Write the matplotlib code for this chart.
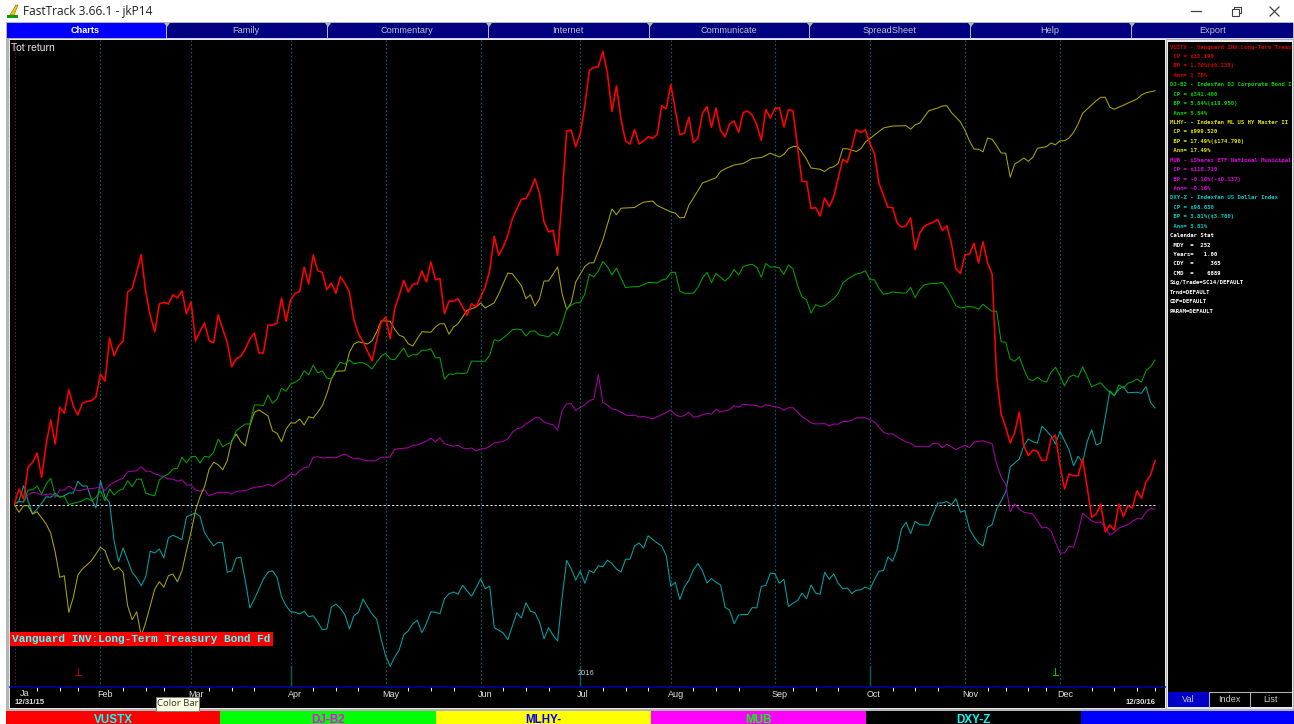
#!/usr/bin/env python
# FastTrack total return chart, 12/31/15 to 12/30/16
import matplotlib
matplotlib.use('Agg')
import matplotlib.pyplot as plt
from matplotlib.patches import Rectangle, Polygon

# daily values, total return in % on the chart's own scale
vustx = [
    .04, .64, .24, 1.51, 1.71, 2.08, 1.11, 2.44, 3.40, 2.44,
    3.91, 3.67, 4.61, 3.95, 3.60, 4.07, 4.15, 4.17, 4.33, 5.24,
    4.95, 6.68, 5.97, 6.37, 6.55, 8.51, 8.67, 9.31, 10.01, 8.51,
    7.57, 6.93, 8.04, 8.11, 8.04, 8.41, 8.28, 8.57, 7.64, 8.13,
    6.57, 6.95, 7.28, 6.57, 6.49, 7.61, 7.04, 6.51, 5.53, 5.85,
    5.95, 6.24, 6.64, 6.88, 6.08, 6.08, 7.19, 7.20, 7.27, 8.28,
    7.35, 8.20, 8.47, 8.53, 9.51, 8.84, 10.0, 9.37, 9.31, 8.61,
    8.88, 8.47, 9.13, 8.87, 8.51, 7.40, 6.84, 6.53, 6.15, 5.77,
    6.57, 7.31, 7.51, 6.65, 7.85, 8.39, 8.99, 8.52, 8.83, 8.85,
    9.36, 8.92, 9.72, 9.01, 9.05, 7.65, 8.15, 8.16, 8.25, 7.92,
    7.59, 8.05, 7.92, 8.32, 8.72, 9.39, 10.75, 9.99, 10.32, 10.79,
    11.45, 11.85, 12.23, 12.25, 12.59, 13.05, 12.45, 11.32, 10.92, 10.99,
    9.99, 12.32, 14.96, 15.0, 14.32, 14.85, 15.97, 17.38, 17.50, 17.53,
    18.15, 17.27, 15.74, 16.77, 15.44, 14.56, 14.44, 15.02, 14.44, 14.56,
    14.73, 14.66, 14.82, 15.97, 15.85, 16.81, 15.82, 14.81, 14.87, 15.51,
    14.50, 14.67, 15.67, 15.94, 15.10, 15.88, 14.98, 14.73, 15.24, 15.36,
    14.90, 15.70, 15.76, 15.59, 15.21, 14.59, 15.82, 15.48, 15.85, 15.90,
    15.12, 15.81, 15.77, 14.32, 12.94, 12.94, 11.86, 11.90, 11.56, 12.28,
    11.93, 12.32, 13.08, 13.83, 13.70, 14.32, 15.01, 14.90, 15.01, 14.46,
    14.04, 12.87, 12.39, 11.90, 11.90, 11.28, 11.12, 11.17, 11.49, 10.21,
    10.87, 11.14, 11.24, 11.31, 11.42, 10.98, 11.17, 10.46, 9.45, 9.26,
    10.0, 10.04, 10.47, 9.68, 10.53, 9.68, 9.24, 5.11, 3.64, 3.11,
    2.48, 2.91, 3.71, 2.37, 1.97, 2.20, 2.15, 1.77, 1.80, 2.64,
    2.80, 1.57, .64, 1.24, 1.17, 1.17, 1.84, .71, -.49, -.36,
    .04, -1.07, -.80, -1.0, .04, -.47, -.03, -.12, .57, .27,
    .93, 1.2, 1.77,
]
dj_b2 = [
    .04, .15, .11, .6, .61, .75, .44, .84, 1.07, .37,
    .35, .33, .01, .07, .11, .17, .27, .17, .31, .57,
    .17, .64, .4, .57, .64, .97, .73, 1.03, 1.04, .48,
    .41, .37, 1.0, 1.15, 1.24, 1.44, 1.47, 1.91, 1.68, 1.93,
    1.95, 1.67, 1.95, 1.91, 2.11, 2.64, 2.33, 2.44, 2.51, 2.97,
    3.11, 3.24, 3.24, 4.0, 4.0, 3.97, 4.4, 4.07, 4.24, 4.67,
    4.55, 4.84, 4.91, 5.04, 5.37, 5.21, 5.6, 5.28, 5.37, 5.07,
    5.04, 5.44, 5.71, 5.64, 5.8, 5.64, 5.69, 5.69, 5.6, 5.44,
    5.71, 5.95, 6.07, 5.84, 5.81, 6.05, 6.28, 5.92, 6.01, 6.01,
    6.19, 6.19, 6.25, 5.89, 5.89, 5.03, 5.24, 5.23, 5.28, 5.25,
    5.29, 5.76, 5.75, 5.75, 5.75, 5.99, 6.61, 6.56, 6.68, 6.83,
    7.01, 7.04, 7.01, 6.76, 6.95, 6.96, 6.8, 6.77, 6.72, 6.92,
    6.79, 7.25, 7.85, 7.99, 8.09, 8.09, 8.44, 9.23, 9.13, 9.36,
    9.74, 9.54, 9.2, 9.48, 9.08, 8.7, 8.72, 8.73, 8.74, 8.82,
    8.9, 8.9, 8.88, 9.0, 9.04, 9.3, 9.31, 8.55, 8.47, 8.47,
    8.47, 8.7, 9.08, 9.31, 8.9, 9.26, 9.11, 8.96, 9.13, 9.42,
    9.2, 9.54, 9.6, 9.63, 9.51, 9.11, 9.66, 9.51, 9.53, 9.48,
    9.23, 9.6, 9.45, 8.8, 8.32, 8.21, 7.67, 8.01, 7.94, 7.97,
    8.11, 8.25, 8.46, 8.87, 9.03, 9.14, 9.24, 9.28, 9.37, 9.01,
    9.01, 8.66, 8.43, 8.46, 8.52, 8.5, 8.48, 8.48, 8.7, 8.29,
    8.62, 8.8, 8.84, 8.86, 8.87, 8.9, 8.66, 8.32, 7.97, 7.88,
    7.91, 7.95, 7.91, 7.83, 8.03, 7.88, 7.75, 7.75, 6.53, 6.51,
    5.84, 5.75, 5.93, 5.44, 5.04, 4.97, 5.11, 4.97, 4.91, 5.31,
    5.51, 5.17, 4.76, 5.11, 5.2, 5.11, 5.53, 5.13, 4.73, 4.81,
    4.89, 4.68, 4.51, 4.37, 4.8, 4.68, 4.87, 4.93, 5.04, 4.91,
    5.37, 5.53, 5.8,
]
dxy_z = [
    .04, .17, .77, .17, -.36, -.16, .07, .33, .31, .47,
    .31, .37, .48, .48, .95, .76, .76, .24, -.12, .97,
    .31, .11, -1.43, -2.27, -1.72, -2.2, -2.69, -2.92, -3.23, -2.87,
    -1.85, -1.92, -1.76, -2.12, -1.32, -1.21, -1.29, -1.39, -.47, -.39,
    -.32, -.46, -1.11, -1.39, -1.63, -1.49, -1.51, -2.69, -2.63, -2.12,
    -2.09, -3.03, -4.12, -3.76, -3.36, -2.96, -2.69, -2.63, -2.89, -3.67,
    -4.03, -4.27, -4.29, -4.36, -4.25, -4.47, -4.43, -4.69, -4.99, -4.96,
    -4.09, -3.96, -4.13, -4.39, -4.96, -4.43, -4.29, -3.76, -4.07, -4.36,
    -4.56, -5.36, -6.03, -6.45, -6.09, -5.79, -5.19, -5.04, -4.75, -4.61,
    -5.11, -4.75, -4.27, -4.29, -4.35, -3.75, -3.55, -3.48, -3.57, -3.21,
    -3.44, -3.65, -3.31, -2.95, -3.35, -3.24, -4.91, -5.01, -5.12, -5.39,
    -4.84, -4.31, -4.52, -3.91, -4.24, -4.31, -4.68, -5.35, -4.91, -5.21,
    -5.44, -3.68, -2.21, -2.55, -3.01, -2.64, -3.13, -2.62, -2.71, -2.43,
    -2.47, -2.21, -2.34, -2.56, -2.68, -2.17, -2.17, -1.64, -1.52, -1.72,
    -1.23, -1.38, -1.52, -1.64, -2.02, -3.25, -3.09, -3.78, -3.28, -3.02,
    -2.59, -2.34, -2.63, -3.12, -2.94, -3.09, -3.2, -4.09, -4.21, -4.75,
    -4.4, -4.38, -4.38, -4.1, -4.12, -3.25, -3.22, -2.72, -2.75, -3.13,
    -2.97, -4.06, -3.93, -3.82, -3.52, -3.75, -3.2, -3.52, -3.57, -2.69,
    -2.97, -2.76, -3.13, -3.35, -3.32, -3.54, -3.41, -3.39, -3.28, -3.37,
    -2.99, -2.65, -2.62, -2.08, -2.25, -1.78, -.95, -.69, -1.14, -.65,
    -.79, -.8, -.81, -.34, .08, .08, .14, .01, .25, -.29,
    -.22, -.96, -1.27, -1.52, -1.63, -.89, -.79, -.16, .17, .51,
    1.53, 1.68, 1.84, 2.37, 2.64, 2.53, 2.48, 3.15, 2.97, 2.77,
    2.44, 2.95, 2.57, 2.2, 1.57, 1.95, 1.71, 2.53, 3.01, 2.4,
    2.48, 3.51, 4.57, 4.37, 4.64, 4.73, 4.49, 4.5, 4.51, 4.47,
    4.73, 4.11, 3.88,
]

# the two smoother series, read at their turning points
mlhy_days = [
    0, 1, 2, 3, 4, 5, 7, 8, 9, 10, 11, 12, 13, 14, 15, 17, 19, 20, 21, 22,
    23, 24, 25, 26, 27, 28, 29, 30, 31, 32, 33, 34, 35, 36, 37, 38, 39, 40, 41, 42,
    43, 44, 45, 46, 47, 48, 49, 50, 51, 52, 53, 54, 56, 57, 58, 59, 60, 61, 62, 63,
    64, 65, 66, 67, 68, 69, 70, 71, 73, 74, 75, 76, 78, 79, 80, 81, 83, 84, 85, 86,
    87, 88, 89, 90, 92, 93, 94, 95, 96, 97, 98, 99, 100, 101, 102, 103, 104, 106, 107, 109,
    110, 112, 113, 114, 115, 116, 117, 118, 120, 121, 122, 123, 124, 126, 127, 128, 129, 130, 132, 133,
    134, 137, 138, 139, 141, 142, 144, 145, 146, 147, 148, 149, 151, 152, 155, 156, 157, 159, 161, 163,
    165, 167, 169, 170, 171, 172, 173, 174, 175, 176, 178, 179, 180, 181, 182, 183, 184, 186, 187, 188,
    189, 192, 194, 197, 198, 199, 200, 202, 204, 205, 206, 207, 209, 210, 211, 212, 213, 214, 215, 216,
    217, 218, 219, 220, 221, 222, 223, 224, 225, 226, 228, 229, 230, 231, 232, 233, 234, 235, 236, 237,
    239, 240, 241, 242, 243, 244, 248, 249, 250, 252,
]
mlhy = [
    0, -.29, -.03, -.03, -.36, -.27, -.76, -1.12, -1.89, -2.89, -2.83, -4.29, -3.69, -2.80, -2.56, -2.23, -1.69, -1.83, -2.33, -2.6,
    -2.49, -2.69, -4.03, -4.59, -4.27, -5.23, -4.69, -4.03, -3.36, -3.07, -3.29, -2.83, -2.76, -3.07, -2.63, -1.83, -1.09, -.23, .34, .74,
    1.43, 1.71, 1.61, 1.41, 1.77, 2.57, 2.84, 2.53, 2.37, 3.17, 3.71, 3.8, 3.57, 2.97, 2.87, 2.53, 3.04, 3.28, 3.28, 3.44,
    3.2, 3.53, 3.48, 3.71, 3.97, 4.44, 5.04, 5.35, 5.37, 6.11, 6.44, 6.53, 6.44, 6.57, 6.91, 7.37, 7.35, 7.03, 6.79, 6.72,
    6.45, 6.36, 6.65, 6.93, 6.91, 7.12, 7.25, 7.25, 6.83, 7.12, 7.25, 7.52, 7.79, 7.85, 7.92, 8.08, 7.88, 8.09, 8.45, 9.28,
    9.25, 8.77, 8.25, 8.41, 7.96, 8.25, 8.96, 8.96, 9.52, 8.45, 7.81, 8.09, 8.92, 9.54, 9.68, 9.69, 10.15, 10.61, 11.84, 11.61,
    11.87, 11.9, 12.02, 12.11, 12.16, 11.98, 11.81, 11.72, 11.68, 11.49, 11.5, 11.99, 12.57, 12.88, 13.09, 13.34, 13.45, 13.6, 13.66, 13.86,
    13.9, 14.07, 13.92, 14.03, 14.25, 14.34, 14.34, 14.11, 13.83, 13.48, 13.43, 13.34, 13.48, 13.53, 13.67, 14.25, 14.25, 14.14, 14.25, 14.52,
    14.66, 15.08, 15.16, 15.17, 15.03, 15.21, 15.27, 15.77, 15.88, 15.96, 15.97, 15.7, 15.32, 14.99, 14.56, 14.24, 14.23, 14.13, 14.68, 14.63,
    14.37, 14.08, 14.07, 13.11, 13.64, 13.75, 13.88, 13.75, 13.91, 14.27, 14.33, 14.48, 14.41, 14.57, 14.57, 14.68, 14.91, 15.24, 15.67, 15.84,
    16.17, 16.31, 16.31, 15.91, 15.83, 15.91, 16.24, 16.4, 16.49, 16.57,
]
mub_days = [
    0, 1, 2, 3, 4, 5, 6, 8, 9, 10, 11, 12, 13, 14, 16, 18, 19, 20, 21, 22,
    23, 24, 25, 27, 28, 29, 30, 31, 33, 34, 35, 36, 37, 38, 39, 40, 41, 42, 43, 44,
    45, 46, 47, 48, 49, 51, 53, 55, 56, 57, 58, 60, 61, 62, 63, 64, 65, 66, 67, 68,
    70, 71, 72, 73, 75, 76, 77, 78, 79, 80, 81, 83, 84, 85, 87, 88, 89, 91, 92, 93,
    94, 95, 96, 97, 98, 99, 100, 101, 102, 103, 104, 105, 106, 107, 108, 109, 110, 111, 112, 113,
    114, 115, 116, 117, 118, 119, 120, 121, 122, 123, 124, 125, 126, 127, 128, 129, 130, 131, 132, 133,
    135, 136, 137, 138, 139, 141, 143, 145, 146, 147, 148, 149, 150, 151, 152, 153, 154, 155, 156, 158,
    159, 160, 161, 164, 165, 166, 167, 169, 170, 171, 172, 173, 174, 175, 176, 177, 179, 180, 181, 182,
    183, 184, 185, 186, 188, 189, 190, 191, 192, 193, 194, 195, 196, 197, 198, 199, 202, 203, 204, 205,
    206, 207, 208, 209, 210, 211, 212, 214, 215, 216, 217, 218, 219, 220, 221, 222, 223, 225, 226, 227,
    228, 229, 230, 231, 232, 233, 234, 235, 236, 237, 238, 239, 240, 241, 242, 243, 244, 246, 247, 248,
    249, 250, 251, 252,
]
mub = [
    .04, .11, .15, .41, .51, .48, .4, .44, .31, .6, .6, .75, .64, .57, .64, .68, .75, .57, .8, .91,
    1.0, 1.07, 1.33, 1.37, 1.53, 1.35, 1.35, 1.24, 1.13, 1.04, 1.04, .95, 1.01, .8, .8, .6, .55, .6, .37, .44,
    .51, .48, .51, .44, .55, .57, .71, .75, .84, .75, .87, 1.08, 1.24, 1.19, 1.37, 1.48, 1.53, 1.91, 1.93, 1.88,
    1.91, 1.88, 1.97, 2.04, 1.84, 1.88, 1.8, 1.77, 1.76, 1.8, 1.91, 1.92, 2.23, 2.25, 2.29, 2.39, 2.4, 2.55, 2.67, 2.53,
    2.69, 2.45, 2.4, 2.35, 2.39, 2.28, 2.25, 2.28, 2.16, 2.24, 2.25, 2.35, 2.49, 2.51, 2.55, 2.65, 2.91, 3.05, 3.09, 3.25,
    3.35, 3.49, 3.49, 3.32, 3.25, 3.21, 2.99, 3.79, 4.05, 4.05, 3.79, 3.9, 4.0, 4.18, 4.23, 5.21, 4.1, 4.0, 3.84, 3.81,
    3.61, 3.57, 3.6, 3.52, 3.54, 3.45, 3.61, 3.8, 3.61, 3.54, 3.57, 3.72, 3.51, 3.54, 3.61, 3.66, 3.64, 3.83, 3.72, 3.81,
    3.98, 3.91, 4.03, 3.98, 3.91, 4.01, 3.97, 3.9, 3.79, 3.89, 3.89, 3.72, 3.53, 3.42, 3.28, 3.24, 3.26, 3.16, 3.24, 3.23,
    3.34, 3.34, 3.39, 3.49, 3.49, 3.41, 3.32, 3.12, 2.91, 2.84, 2.84, 2.73, 2.62, 2.52, 2.47, 2.34, 2.33, 2.47, 2.47, 2.29,
    2.43, 2.33, 2.22, 2.31, 2.38, 2.3, 2.51, 2.57, 2.51, 2.44, 1.64, 1.11, .84, -.27, .04, -.16, -.29, -.36, -.63, -.92,
    -.89, -1.03, -1.49, -1.92, -1.92, -1.65, -1.69, -1.09, -.33, -.47, -.63, -.72, -.67, -.89, -1.2, -1.09, -.92, -.79, -.65, -.55,
    -.55, -.29, -.13, -.17,
]

days = list(range(len(vustx)))
month_days = [19, 39, 61, 82, 103, 125, 145, 168, 189, 210, 231]
month_labels = ['Feb', 'Mar', 'Apr', 'May', 'Jun', 'Jul', 'Aug', 'Sep', 'Oct', 'Nov', 'Dec']
week_days = [5, 10, 14, 24, 29, 33, 43, 48, 53, 66, 71, 76, 87, 92, 97, 108, 113, 118,
             130, 135, 140, 150, 155, 160, 172, 177, 182, 194, 199, 204, 215, 219, 224, 228,
             238, 243, 248, 252]
quarter_days = [61, 125, 189]

tab_names = ['Charts', 'Family', 'Commentary', 'Internet', 'Communicate', 'SpreadSheet', 'Help', 'Export']
bar_names = ['VUSTX', 'DJ-B2', 'MLHY-', 'MUB', 'DXY-Z', '']
bar_colors = ['#ff0000', '#00ff00', '#ffff00', '#ff00ff', '#000000', '#0000ff']
bar_text = ['#00ffff', '#ff00ff', '#0000ff', '#00ff00', '#00ffff', '#ffffff']

RED, GREEN, YELLOW, MAGENTA, CYAN = '#ff0000', '#00a400', '#aaa600', '#a800a8', '#00a4a4'
side_lines = [
    ('VUSTX - Vanguard INV:Long-Term Treas', '#d00000'), (' CP = $12.190', '#d00000'),
    (' BP = 1.76%($0.235)', '#d00000'), (' Ann= 1.76%', '#d00000'),
    ('DJ-B2 - Indexfan DJ Corporate Bond I', '#00d000'), (' CP = $341.400', '#00d000'),
    (' BP = 5.84%($19.950)', '#00d000'), (' Ann= 5.84%', '#00d000'),
    ('MLHY- - Indexfan ML US HY Master II', '#e0e000'), (' CP = $999.520', '#e0e000'),
    (' BP = 17.49%($174.790)', '#e0e000'), (' Ann= 17.49%', '#e0e000'),
    ('MUB - iShares ETF National Municipal', '#e000e0'), (' CP = $110.710', '#e000e0'),
    (' BP = -0.16%(-$0.137)', '#e000e0'), (' Ann= -0.16%', '#e000e0'),
    ('DXY-Z - Indexfan US Dollar Index', '#00c8c8'), (' CP = $98.630', '#00c8c8'),
    (' BP = 3.81%($3.760)', '#00c8c8'), (' Ann= 3.81%', '#00c8c8'),
    ('Calendar Stat', 'white'), (' MDY  =  252', 'white'), (' Years=   1.00', 'white'),
    (' CDY  =     365', 'white'), (' CMD  =    6889', 'white'),
    ('Sig/Trade=SC14/DEFAULT', 'white'), ('Trnd=DEFAULT', 'white'),
    ('CDF=DEFAULT', 'white'), ('PARAM=DEFAULT', 'white'),
]

W, H = 1294, 724
fig = plt.figure(figsize=(W / 100, H / 100), dpi=100, facecolor='white')

# window chrome, drawn in screen pixels
ui = fig.add_axes([0, 0, 1, 1])
ui.set_xlim(0, W)
ui.set_ylim(H, 0)
ui.axis('off')


def box(x0, y0, x1, y1, color, **kw):
    ui.add_patch(Rectangle((x0, y0), x1 - x0, y1 - y0, facecolor=color, edgecolor='none', **kw))


box(6, 22, W, 711, '#b4b4b4')
box(9, 39, 1166, 709, '#e8e8e8')
box(10, 40, 1165, 708, 'black')
box(1167, 40, 1293, 709, '#e8e8e8')
box(1168, 42, 1292, 707, 'black')

# title bar
ui.add_patch(Polygon([(7, 18), (18, 18), (18, 15), (7, 15)], facecolor='#00a000'))
ui.add_patch(Polygon([(10, 15), (16, 5), (18, 5), (14, 15)], facecolor='#f0d000', edgecolor='#806000', lw=.4))
ui.text(23, 12, 'FastTrack 3.66.1 - jkP14', fontsize=8.6, family='Open Sans', va='center', color='#202020')
ui.plot([1191, 1201], [11, 11], color='#404040', lw=.9)
box(1232, 8, 1239, 15, 'white')
ui.add_patch(Rectangle((1231.5, 8.5), 7, 7, facecolor='white', edgecolor='#404040', lw=.8))
ui.plot([1234, 1234, 1240.5, 1240.5, 1239], [8, 6.5, 6.5, 13, 13], color='#404040', lw=.8)
ui.plot([1270, 1279], [7, 16], color='#404040', lw=.9)
ui.plot([1270, 1279], [16, 7], color='#404040', lw=.9)

# tab row
tab_edges = [7, 167, 328, 489, 650, 810, 971, 1132, 1294]
tab_text_x = [85, 246, 407, 568, 729, 889, 1050, 1213]
for i, name in enumerate(tab_names):
    active = i == 0
    box(tab_edges[i], 23, tab_edges[i + 1] - 1, 38, '#0000ff' if active else '#000080')
    ui.text(tab_text_x[i], 30.5, name, ha='center', va='center', fontsize=6.6,
            family='Liberation Sans', color='white' if active else '#c0c0c0', fontweight='bold' if active else 'normal')
    if not active:
        box(tab_edges[i], 38, tab_edges[i + 1] - 1, 39.2, '#d0d0ff')
    if i:
        ui.add_patch(Polygon([(tab_edges[i] - 3, 23), (tab_edges[i] + 3, 23), (tab_edges[i], 27)],
                             facecolor='#b4b4b4', edgecolor='none'))

# colour bar, cut by the bottom of the picture
bar_edges = [6, 220, 436, 651, 866, 1081, 1294]
for i, name in enumerate(bar_names):
    box(bar_edges[i], 711, bar_edges[i + 1], H, bar_colors[i])
    ui.text((bar_edges[i] + bar_edges[i + 1]) / 2, 720, name, ha='center', va='center', fontsize=8.4,
            family='Liberation Sans', fontweight='bold', color=bar_text[i], clip_on=True)

# side panel
for i, (line, color) in enumerate(side_lines):
    ui.text(1170, 47 + i * 9.43, line, fontsize=4.05, family='DejaVu Sans Mono', fontweight='bold', va='center', color=color)
tab_x = [1168, 1209, 1250, 1291]
for i, name in enumerate(['Val', 'Index', 'List']):
    box(tab_x[i], 692, tab_x[i + 1] - .5, 707, '#0000c8' if i == 0 else 'black')
    if i:
        ui.plot([tab_x[i], tab_x[i], tab_x[i + 1]], [707, 692, 692], color='#b0b0b0', lw=.8)
    ui.text((tab_x[i] + tab_x[i + 1]) / 2, 700, name, ha='center', va='center', fontsize=6.6,
            family='Liberation Sans', color='#c8c8c8')

ui.text(15, 702, '12/31/15', fontsize=5.6, family='Liberation Sans', fontweight='bold', va='center', color='#e0e0e0')
ui.text(1126, 702, '12/30/16', fontsize=5.6, family='Liberation Sans', fontweight='bold', va='center', color='#e0e0e0')
ui.text(20, 693, 'Ja', fontsize=6.5, family='Liberation Sans', va='center', color='#e0e0e0')

# chart, 4.526 px per trading day and 25 px per unit
ax = fig.add_axes([10 / W, 1 - 687 / H, 1155 / W, 647 / H], facecolor='black')
ax.set_xlim(-4.5 / 4.526, 1150.5 / 4.526)
ax.set_ylim(-182 / 25, 465 / 25)
for side in ['top', 'left', 'right']:
    ax.spines[side].set_visible(False)
ax.spines['bottom'].set_color('#0000a0')
ax.spines['bottom'].set_linewidth(1.2)
ax.set_yticks([])
ax.set_xticks(month_days, [''] * len(month_days))
ax.tick_params(axis='x', length=0)
ax.set_xticks(week_days, minor=True)
ax.tick_params(axis='x', which='minor', length=3, width=.7, color='white', direction='out')

ax.axvline(0, color='#6a2020', lw=.7, ls=(0, (1.5, 2)))
for d in month_days:
    ax.axvline(d, color='#006868', lw=.8, ls=(0, (1.5, 2)))
for d in quarter_days:
    ax.plot([d, d], [-7.28, -6.45], color='#006060', lw=1.0)
ax.plot([0, 252], [0, 0], color='#e0e0e0', lw=.7, ls=(0, (2.4, 2)))

ax.plot(days, dxy_z, color=CYAN, lw=.75)
ax.plot(mub_days, mub, color=MAGENTA, lw=.75)
ax.plot(mlhy_days, mlhy, color=YELLOW, lw=.75)
ax.plot(days, dj_b2, color=GREEN, lw=.75)
ax.plot(days, vustx, color=RED, lw=1.15)

for d, label in zip(month_days, month_labels):
    ax.annotate(label, (d, 0), xycoords=('data', 'axes fraction'), xytext=(-2.2, -2.4), textcoords='offset points',
                ha='left', va='top', fontsize=6.5, family='Liberation Sans', color='#e0e0e0', annotation_clip=False)
ax.annotate('2016', (125, -6.75), xytext=(-2, 0), textcoords='offset points', fontsize=5.4,
            family='Liberation Sans', color='#c8c8c8', va='center')

# small signal marks
ax.plot([14, 14], [-6.8, -6.5], color='#a00000', lw=.8)
ax.plot([13.4, 14.6], [-6.8, -6.8], color='#a00000', lw=.8)
ax.plot([230, 230], [-6.8, -6.5], color='#00c000', lw=.8)
ax.plot([229.4, 230.6], [-6.8, -6.8], color='#00c000', lw=.8)

ax.text(0.0005, 0.9875, 'Tot return', transform=ax.transAxes, va='center', fontsize=7.5, family='Liberation Sans', color='#e8e8e8')
ax.text(0.002, -5.36, 'Vanguard INV:Long-Term Treasury Bond Fd', transform=ax.get_yaxis_transform(), va='center', ha='left',
        fontsize=8.05, family='Liberation Mono', fontweight='bold', color='#40ffff',
        bbox=dict(facecolor='#ff0000', edgecolor='none', pad=1.6))

# tooltip above everything
top = fig.add_axes([0, 0, 1, 1])
top.set_xlim(0, W)
top.set_ylim(H, 0)
top.axis('off')
top.add_patch(Rectangle((156, 697), 43, 14, facecolor='#ffffe1', edgecolor='#808080', lw=.7))
top.text(177.5, 704, 'Color Bar', ha='center', va='center', fontsize=6.8, family='Open Sans', color='#303030')

fig.savefig('out.png', dpi=100, facecolor=fig.get_facecolor())
